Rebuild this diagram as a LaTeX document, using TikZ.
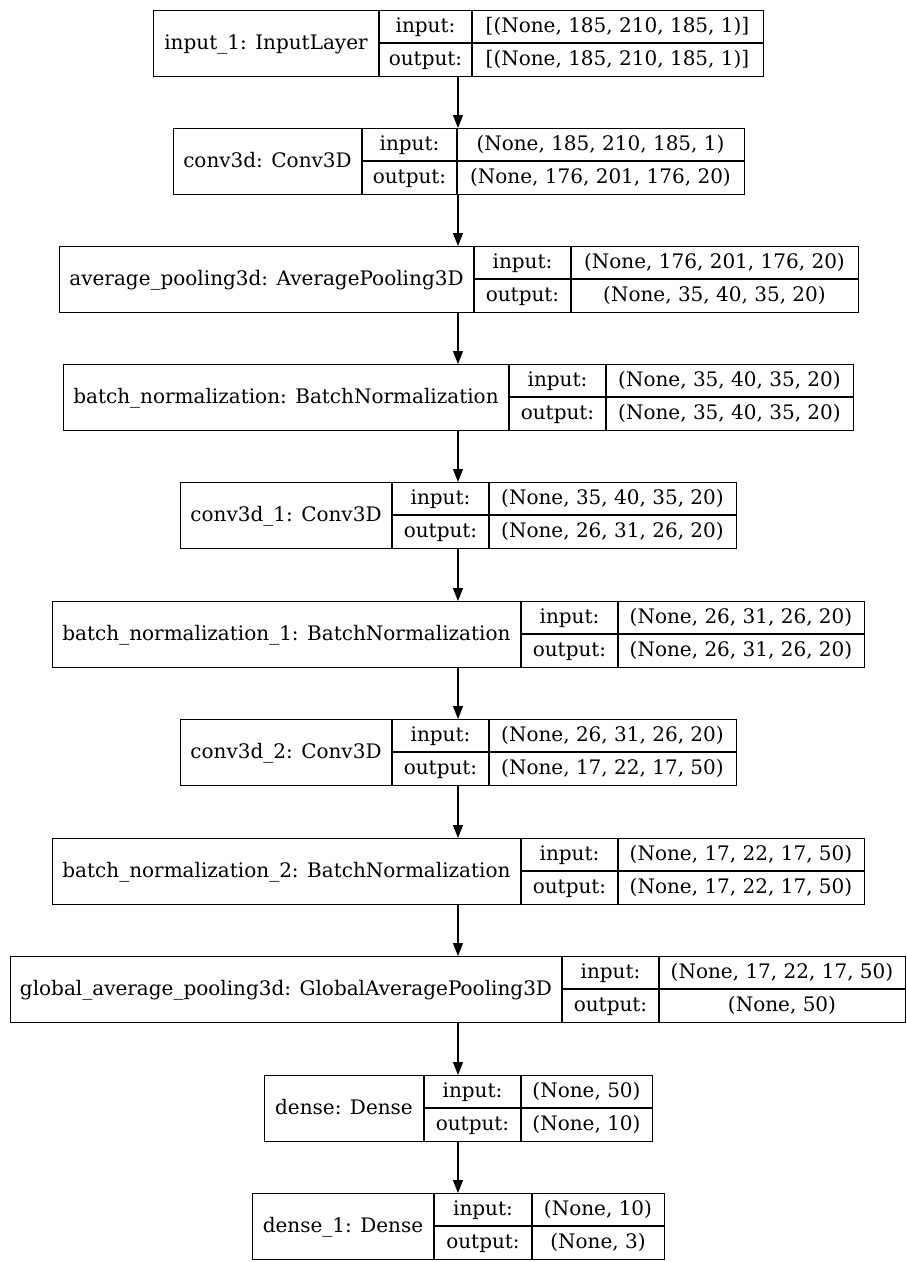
\documentclass[tikz,border=0pt]{standalone}
\usepackage{fontspec}
\setmainfont{DejaVu Serif}
\usetikzlibrary{arrows.meta}
\tikzset{
  layerbox/.style={draw, line width=1.2pt, inner sep=0pt, minimum height=66pt, anchor=north west},
  cellline/.style={line width=1.2pt},
  txt/.style={inner sep=0pt, anchor=base, font=\fontsize{20}{24}\selectfont},
  arr/.style={line width=1.3pt, -{Triangle[length=13pt,width=10pt]}}
}
\newcommand\klayer[9]{%
  \pgfmathsetmacro\kB{#4+66}%
  \pgfmathsetmacro\kM{#4+33}%
  \pgfmathsetmacro\kW{#3-#2}%
  \node[layerbox, minimum width=\kW pt] (#1) at (#2,-#4) {};
  \draw[cellline] (#5,-#4) -- (#5,-\kB);
  \draw[cellline] (#6,-#4) -- (#6,-\kB);
  \draw[cellline] (#5,-\kM) -- (#3,-\kM);
  \node[txt] (#1-name) at ({(#2+#5)/2},{-(\kM+6.5)}) {#7};
  \node[txt] (#1-inl) at ({(#5+#6)/2},{-(#4+16.5+6)}) {input:};
  \node[txt] (#1-outl) at ({(#5+#6)/2},{-(#4+49.5+6)}) {output:};
  \node[txt] (#1-in) at ({(#6+#3)/2},{-(#4+16.5+6)}) {#8};
  \node[txt] (#1-out) at ({(#6+#3)/2},{-(#4+49.5+6)}) {#9};
}
\begin{document}
\begin{tikzpicture}[x=1pt,y=1pt]
\useasboundingbox[fill=white] (0,0) rectangle (907,-1262);
\coordinate (axis) at (458,0);
\klayer{l1}{153}{763}{10}{379}{472}{input\_1: InputLayer}{[(None, 185, 210, 185, 1)]}{[(None, 185, 210, 185, 1)]}
\klayer{l2}{173}{744}{128}{362}{457}{conv3d: Conv3D}{(None, 185, 210, 185, 1)}{(None, 176, 201, 176, 20)}
\klayer{l3}{59}{858}{246}{474}{571}{average\_pooling3d: AveragePooling3D}{(None, 176, 201, 176, 20)}{(None, 35, 40, 35, 20)}
\klayer{l4}{63}{853}{364}{509}{606}{batch\_normalization: BatchNormalization}{(None, 35, 40, 35, 20)}{(None, 35, 40, 35, 20)}
\klayer{l5}{180}{736}{482}{392}{489}{conv3d\_1: Conv3D}{(None, 35, 40, 35, 20)}{(None, 26, 31, 26, 20)}
\klayer{l6}{52}{864}{601}{521}{618}{batch\_normalization\_1: BatchNormalization}{(None, 26, 31, 26, 20)}{(None, 26, 31, 26, 20)}
\klayer{l7}{180}{736}{719}{392}{489}{conv3d\_2: Conv3D}{(None, 26, 31, 26, 20)}{(None, 17, 22, 17, 50)}
\klayer{l8}{52}{864}{838}{521}{618}{batch\_normalization\_2: BatchNormalization}{(None, 17, 22, 17, 50)}{(None, 17, 22, 17, 50)}
\klayer{l9}{10}{905}{956}{562}{659}{global\_average\_pooling3d: GlobalAveragePooling3D}{(None, 17, 22, 17, 50)}{(None, 50)}
\klayer{l10}{264}{652}{1075}{424}{521}{dense: Dense}{(None, 50)}{(None, 10)}
\klayer{l11}{252}{664}{1193}{434}{532}{dense\_1: Dense}{(None, 10)}{(None, 3)}
\foreach \a/\b in {l1/l2,l2/l3,l3/l4,l4/l5,l5/l6,l6/l7,l7/l8,l8/l9,l9/l10,l10/l11}
  \draw[arr] (\a.south -| axis) -- (\b.north -| axis);
\end{tikzpicture}
\end{document}
